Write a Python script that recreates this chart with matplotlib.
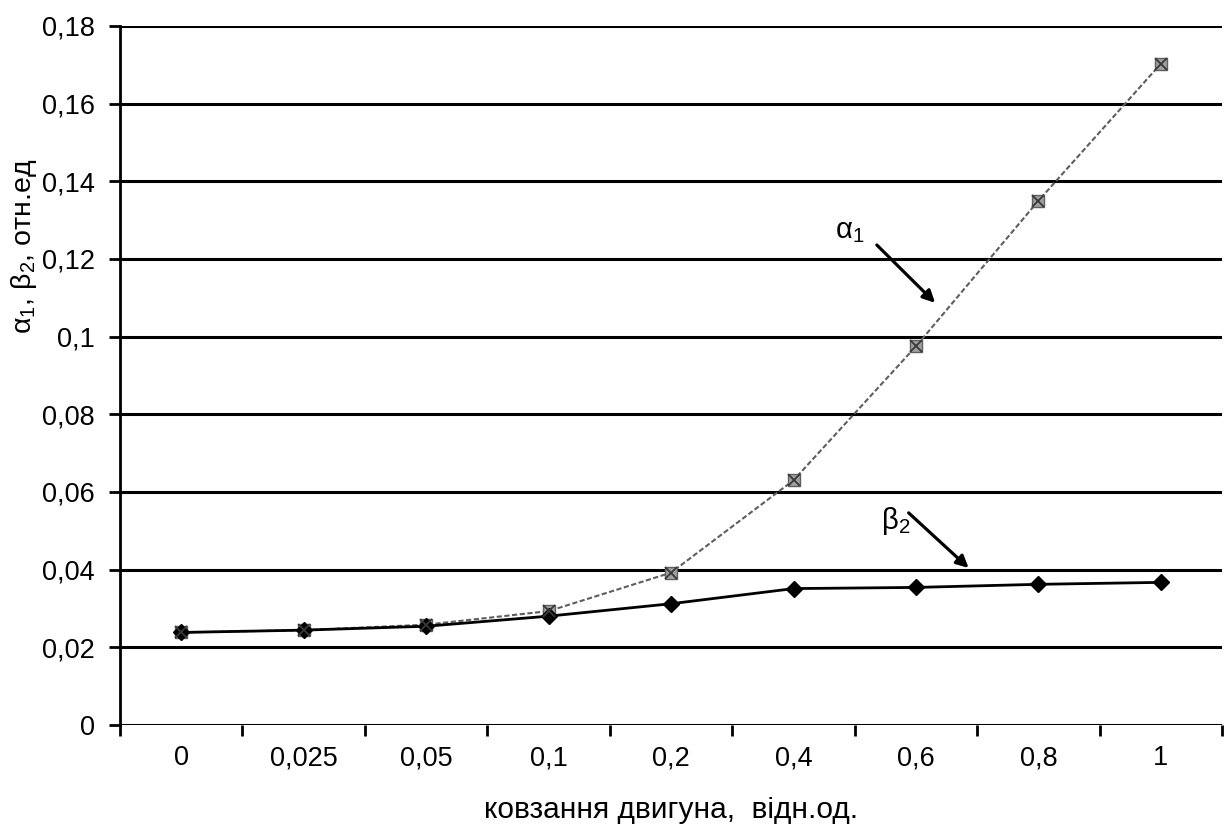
import matplotlib
matplotlib.use("Agg")
import matplotlib.pyplot as plt
import numpy as np

plt.rcParams['font.family'] = ['Liberation Sans', 'DejaVu Sans']
plt.rcParams['mathtext.fontset'] = 'custom'
plt.rcParams['mathtext.rm'] = 'Liberation Sans'
plt.rcParams['mathtext.it'] = 'Liberation Sans'

# Motor slip (relative units) and coefficients
slip_labels = ['0', '0,025', '0,05', '0,1', '0,2', '0,4', '0,6', '0,8', '1']
alpha1 = [0.0238, 0.0244, 0.0258, 0.0293, 0.0392, 0.0630, 0.0975, 0.1350, 0.1703]
beta2 = [0.0238, 0.0244, 0.0254, 0.0280, 0.0312, 0.0351, 0.0354, 0.0362, 0.0367]
y_ticks = [0, 0.02, 0.04, 0.06, 0.08, 0.10, 0.12, 0.14, 0.16, 0.18]
y_tick_labels = ['0', '0,02', '0,04', '0,06', '0,08', '0,1', '0,12', '0,14', '0,16', '0,18']

fig = plt.figure(figsize=(12.32, 8.38), dpi=100)
ax = fig.add_axes([0.0974, 0.135, 0.8946, 0.834])

x = np.arange(len(slip_labels))

# horizontal grid
for yv in y_ticks:
    ax.axhline(yv, color='black', lw=2.2, zorder=1)

# alpha_1: grey dashed line with hatched square markers
ax.plot(x, alpha1, color='#5e5e5e', lw=1.5, ls=(0, (2.5, 1.2)), zorder=3)
ax.plot(x, alpha1, ls='none', marker='s', ms=9, mfc='#a0a0a0', mec='#606060',
        mew=1.0, zorder=4)
ax.plot(x, alpha1, ls='none', marker='x', ms=8, mec='#383838', mew=1.3, zorder=5)

# beta_2: solid black line with diamonds
ax.plot(x, beta2, color='black', lw=2.0, marker='D', ms=8, mfc='black',
        mec='black', zorder=4)

ax.set_xlim(-0.5, len(slip_labels) - 0.5)
ax.set_ylim(0, 0.18)

ax.set_yticks(y_ticks)
ax.set_yticklabels(y_tick_labels, fontsize=19.5)
ax.set_xticks(x)
ax.set_xticklabels(slip_labels, fontsize=19.5)
for lab in ax.get_xticklabels():
    lab.set_verticalalignment('baseline')
ax.tick_params(axis='x', length=0, pad=29)
ax.tick_params(axis='y', length=8, width=2, direction='out', pad=10)

# category boundary ticks on the x axis
ax.set_xticks(np.arange(len(slip_labels) + 1) - 0.5, minor=True)
ax.tick_params(axis='x', which='minor', length=8, width=2, direction='out')

for s in ['top', 'right', 'bottom']:
    ax.spines[s].set_visible(False)
ax.spines['left'].set_linewidth(2)
ax.set_facecolor('white')

ax.set_xlabel('ковзання двигуна,  відн.од.', fontsize=21.5, labelpad=18)
ax.set_ylabel(r'α$_1$, β$_2$, отн.ед', fontsize=20.5)
ax.yaxis.set_label_coords(-0.0735, 0.684)

# curve labels with pointer arrows
arrow_style = dict(arrowstyle='-|>', color='black', lw=2.3,
                   mutation_scale=18, shrinkA=0, shrinkB=0)
ax.text(5.46, 0.1272, r'α$_1$', fontsize=21, ha='center', va='center')
ax.annotate('', xy=(6.156, 0.1087), xytext=(5.68, 0.1236),
            arrowprops=arrow_style)
ax.text(5.83, 0.0525, r'β$_2$', fontsize=21, ha='center', va='center')
ax.annotate('', xy=(6.43, 0.0404), xytext=(5.94, 0.0546),
            arrowprops=arrow_style)

fig.savefig('out.png', dpi=100, facecolor='white')
